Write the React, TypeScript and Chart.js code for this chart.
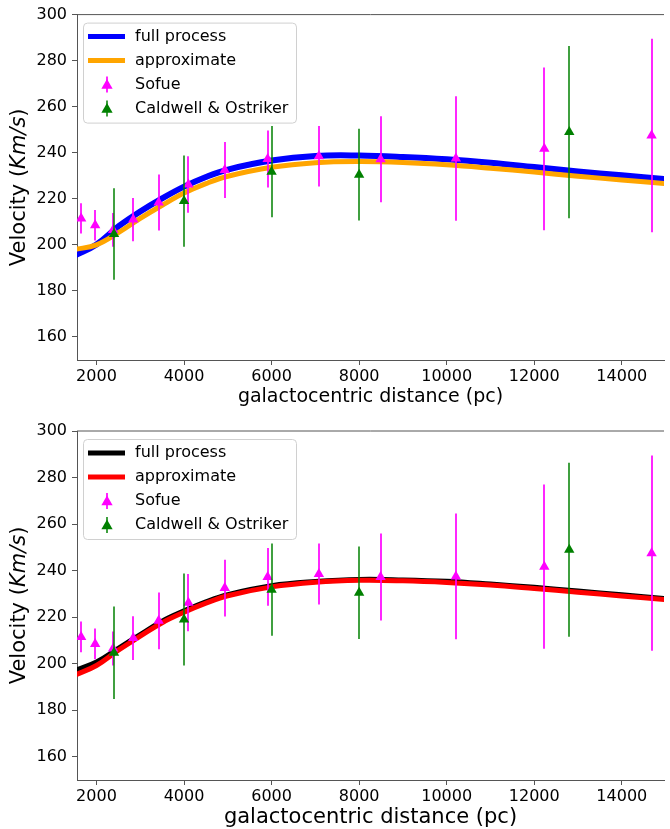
import React, { useEffect, useRef } from "react";
import { Chart, registerables } from "chart.js";
Chart.register(...registerables);

// ---------- data ----------
const CURVE_X = [1500, 2000, 2500, 3000, 3500, 4000, 4500, 5000, 6000, 7000, 8000, 9000, 10000, 11000, 12000, 13000, 14000, 15000];
const TOP_FULL = [195.3, 200.2, 208.0, 214.5, 220.2, 225.3, 229.5, 232.7, 236.6, 238.6, 238.8, 238.2, 237.2, 235.7, 233.8, 231.9, 230.2, 228.5];
const TOP_APPROX = [198.0, 200.0, 205.3, 211.5, 217.2, 222.5, 226.6, 229.8, 233.7, 235.7, 236.2, 235.8, 234.8, 233.3, 231.6, 229.8, 228.2, 226.6];
const BOTTOM_FULL = [197.0, 200.7, 206.6, 212.5, 218.3, 222.7, 226.6, 229.7, 233.5, 235.3, 236.2, 236.0, 235.4, 234.2, 232.8, 231.2, 229.6, 228.0];
const BOTTOM_APPROX = [195.0, 199.2, 205.8, 211.8, 217.6, 222.1, 226.0, 229.2, 233.0, 235.0, 235.8, 235.6, 234.9, 233.8, 232.3, 230.7, 229.1, 227.5];

const SOFUE_X = [1650, 1970, 2380, 2840, 3420, 4100, 4930, 5910, 7080, 8490, 10210, 12230, 14680];
const SOFUE_V = [211.5, 208.5, 206.5, 211.0, 218.4, 226.2, 232.5, 237.3, 238.5, 237.2, 237.5, 241.7, 247.5];
const SOFUE_ERR = [6.6, 6.6, 7.3, 9.4, 12.2, 12.3, 12.2, 12.4, 13.1, 18.7, 27.0, 35.3, 42.0];

const CALDWELL_X = [2400, 4000, 6000, 8000, 12800];
const CALDWELL_V = [204.7, 219.0, 231.8, 230.5, 249.0];
const CALDWELL_ERR = [19.9, 19.8, 19.8, 19.9, 37.4];

const X_TICKS = [2000, 4000, 6000, 8000, 10000, 12000, 14000];
const Y_TICKS = [160, 180, 200, 220, 240, 260, 280, 300];
const X_MIN = 1555;
const X_MAX = 14964;
const Y_MIN = 150;
const Y_MAX = 300;

const LEGEND_LABELS = ["full process", "approximate", "Sofue", "Caldwell & Ostriker"];
const X_TITLE = "galactocentric distance (pc)";

// ---------- styles ----------
const FONT = "'DejaVu Sans', sans-serif";
const MAGENTA = "#ff00ff";
const MAGENTA_BAR = "rgba(255,0,255,0.85)";
const GREEN = "#008000";
const GREEN_BAR = "rgba(0,128,0,0.75)";
const SPINE = "#555555";

type Panel = {
  fullColor: string;
  approxColor: string;
  full: number[];
  approx: number[];
  fullWidth: number;
  approxWidth: number;
  height: number;
  padTop: number;
  xAxisHeight: number;
  xTitleSize: number;
  xTitleOffset: number;
};

const PANELS: Panel[] = [
  {
    fullColor: "#0000ff",
    approxColor: "#ffa500",
    full: TOP_FULL,
    approx: TOP_APPROX,
    fullWidth: 6,
    approxWidth: 5,
    height: 415,
    padTop: 11.5,
    xAxisHeight: 55,
    xTitleSize: 19,
    xTitleOffset: 42,
  },
  {
    fullColor: "#000000",
    approxColor: "#ff0000",
    full: BOTTOM_FULL,
    approx: BOTTOM_APPROX,
    fullWidth: 5,
    approxWidth: 5,
    height: 414,
    padTop: 16,
    xAxisHeight: 49,
    xTitleSize: 21,
    xTitleOffset: 43,
  },
];

function triangle(ctx: CanvasRenderingContext2D, x: number, y: number, r: number, color: string) {
  ctx.beginPath();
  let rad = 0;
  for (let i = 0; i < 3; i++) {
    const px = x + Math.sin(rad) * r;
    const py = y - Math.cos(rad) * r;
    if (i === 0) ctx.moveTo(px, py);
    else ctx.lineTo(px, py);
    rad += (2 * Math.PI) / 3;
  }
  ctx.closePath();
  ctx.fillStyle = color;
  ctx.fill();
}

const errorBarPlugin = {
  id: "errorBars",
  beforeDatasetDraw(chart: any, args: any) {
    const ds = chart.data.datasets[args.index];
    if (!ds.errors) return;
    const { ctx, chartArea } = chart;
    const xs = chart.scales.x;
    const ys = chart.scales.y;
    ctx.save();
    ctx.beginPath();
    ctx.rect(chartArea.left, chartArea.top, chartArea.right - chartArea.left, chartArea.bottom - chartArea.top);
    ctx.clip();
    ctx.strokeStyle = ds.errColor;
    ctx.lineWidth = 2;
    ds.data.forEach((p: any, i: number) => {
      const px = Math.round(xs.getPixelForValue(p.x));
      ctx.beginPath();
      ctx.moveTo(px, ys.getPixelForValue(p.y + ds.errors[i]));
      ctx.lineTo(px, ys.getPixelForValue(p.y - ds.errors[i]));
      ctx.stroke();
    });
    ctx.restore();
  },
};

function makeDecor(panel: Panel) {
  return {
    id: "decor",
    afterDraw(chart: any) {
      const { ctx, chartArea } = chart;
      const { left, right, top, bottom } = chartArea;
      ctx.save();
      // top spine
      ctx.strokeStyle = SPINE;
      ctx.lineWidth = 1;
      ctx.beginPath();
      ctx.moveTo(left, top);
      ctx.lineTo(right, top);
      ctx.stroke();

      // x title
      ctx.fillStyle = "#000";
      ctx.font = `${panel.xTitleSize}px ${FONT}`;
      ctx.textAlign = "center";
      ctx.textBaseline = "alphabetic";
      ctx.fillText(X_TITLE, (left + right) / 2, bottom + panel.xTitleOffset);

      // y title with italic unit
      const parts = [
        { t: "Velocity (", f: `21px ${FONT}` },
        { t: "Km/s", f: `italic 21px ${FONT}` },
        { t: ")", f: `21px ${FONT}` },
      ];
      let total = 0;
      const widths = parts.map((p) => {
        ctx.font = p.f;
        const w = ctx.measureText(p.t).width;
        total += w;
        return w;
      });
      ctx.translate(25, (top + bottom) / 2);
      ctx.rotate(-Math.PI / 2);
      ctx.textAlign = "left";
      let cx = -total / 2;
      parts.forEach((p, i) => {
        ctx.font = p.f;
        ctx.fillText(p.t, cx, 0);
        cx += widths[i];
      });
      ctx.setTransform(1, 0, 0, 1, 0, 0);

      // legend
      const bx = left + 6;
      const by = top + 8;
      const bw = 213;
      const bh = 100;
      ctx.beginPath();
      ctx.roundRect(bx + 0.5, by + 0.5, bw, bh, 4);
      ctx.fillStyle = "rgba(255,255,255,0.85)";
      ctx.fill();
      ctx.strokeStyle = "#d0d0d0";
      ctx.lineWidth = 1;
      ctx.stroke();

      const rows = [by + 14, by + 38, by + 62, by + 86];
      const hx0 = bx + 5;
      const hx1 = bx + 42;
      const hxm = (hx0 + hx1) / 2;
      ctx.lineCap = "butt";
      ctx.strokeStyle = panel.fullColor;
      ctx.lineWidth = 5;
      ctx.beginPath();
      ctx.moveTo(hx0, rows[0]);
      ctx.lineTo(hx1, rows[0]);
      ctx.stroke();
      ctx.strokeStyle = panel.approxColor;
      ctx.beginPath();
      ctx.moveTo(hx0, rows[1]);
      ctx.lineTo(hx1, rows[1]);
      ctx.stroke();
      const ebs = [
        { row: rows[2], bar: MAGENTA_BAR, mk: MAGENTA },
        { row: rows[3], bar: GREEN_BAR, mk: GREEN },
      ];
      ebs.forEach((e) => {
        ctx.strokeStyle = e.bar;
        ctx.lineWidth = 2;
        ctx.beginPath();
        ctx.moveTo(Math.round(hxm), e.row - 8);
        ctx.lineTo(Math.round(hxm), e.row + 8);
        ctx.stroke();
        triangle(ctx, Math.round(hxm), e.row + 1, 6.5, e.mk);
      });
      ctx.fillStyle = "#000";
      ctx.font = `16px ${FONT}`;
      ctx.textAlign = "left";
      ctx.textBaseline = "middle";
      LEGEND_LABELS.forEach((l, i) => ctx.fillText(l, bx + 52, rows[i]));
      ctx.restore();
    },
  };
}

function PanelChart({ panel }: { panel: Panel }) {
  const ref = useRef<HTMLCanvasElement | null>(null);
  useEffect(() => {
    if (!ref.current) return;
    const toXY = (xs: number[], ys: number[]) => xs.map((x, i) => ({ x, y: ys[i] }));
    const chart = new Chart(ref.current, {
      type: "line",
      data: {
        datasets: [
          {
            label: LEGEND_LABELS[0],
            data: toXY(CURVE_X, panel.full),
            borderColor: panel.fullColor,
            borderWidth: panel.fullWidth,
            pointRadius: 0,
            tension: 0.4,
            fill: false,
            order: 3,
          },
          {
            label: LEGEND_LABELS[1],
            data: toXY(CURVE_X, panel.approx),
            borderColor: panel.approxColor,
            borderWidth: panel.approxWidth,
            pointRadius: 0,
            tension: 0.4,
            fill: false,
            order: 2,
          },
          {
            label: LEGEND_LABELS[2],
            data: toXY(SOFUE_X, SOFUE_V),
            showLine: false,
            pointStyle: "triangle",
            pointRadius: 6,
            pointBorderWidth: 0,
            pointBackgroundColor: MAGENTA,
            pointBorderColor: MAGENTA,
            errors: SOFUE_ERR,
            errColor: MAGENTA_BAR,
            order: 1,
          } as any,
          {
            label: LEGEND_LABELS[3],
            data: toXY(CALDWELL_X, CALDWELL_V),
            showLine: false,
            pointStyle: "triangle",
            pointRadius: 6,
            pointBorderWidth: 0,
            pointBackgroundColor: GREEN,
            pointBorderColor: GREEN,
            errors: CALDWELL_ERR,
            errColor: GREEN_BAR,
            order: 0,
          } as any,
        ],
      },
      options: {
        animation: false,
        responsive: false,
        events: [],
        layout: { padding: { top: panel.padTop, left: 0, right: 0, bottom: 0 } },
        plugins: { legend: { display: false }, tooltip: { enabled: false } },
        scales: {
          x: {
            type: "linear",
            min: X_MIN,
            max: X_MAX,
            afterBuildTicks: (s: any) => {
              s.ticks = X_TICKS.map((v) => ({ value: v }));
            },
            afterFit: (s: any) => {
              s.height = panel.xAxisHeight;
            },
            grid: { drawOnChartArea: false, drawTicks: true, tickLength: 5, color: SPINE },
            border: { display: true, color: SPINE, width: 1 },
            ticks: {
              color: "#000",
              font: { family: FONT, size: 16 },
              padding: 2,
              maxRotation: 0,
              autoSkip: false,
              callback: (v: any) => String(v),
            },
          },
          y: {
            type: "linear",
            min: Y_MIN,
            max: Y_MAX,
            afterBuildTicks: (s: any) => {
              s.ticks = Y_TICKS.map((v) => ({ value: v }));
            },
            afterFit: (s: any) => {
              s.width = 77;
            },
            grid: { drawOnChartArea: false, drawTicks: true, tickLength: 5, color: SPINE },
            border: { display: true, color: SPINE, width: 1 },
            ticks: {
              color: "#000",
              font: { family: FONT, size: 16 },
              padding: 5,
              autoSkip: false,
              callback: (v: any) => String(v),
            },
          },
        },
      },
      plugins: [errorBarPlugin, makeDecor(panel)],
    } as any);
    return () => chart.destroy();
  }, [panel]);
  return <canvas ref={ref} width={670} height={panel.height} style={{ display: "block" }} />;
}

export default function App() {
  return (
    <div style={{ position: "absolute", left: 0, top: 0, width: 670, height: 829, background: "#fff" }}>
      {PANELS.map((p, i) => (
        <PanelChart key={i} panel={p} />
      ))}
    </div>
  );
}
